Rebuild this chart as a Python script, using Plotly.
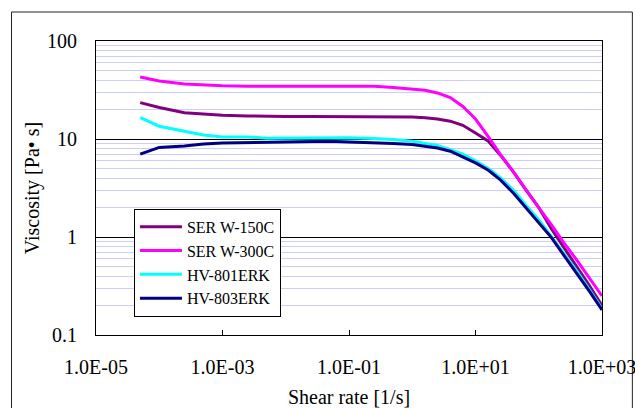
import plotly.graph_objects as go

shear_rate = [5e-5, 1e-4, 2.5e-4, 5e-4, 1e-3, 2.5e-3, 5e-3, 1e-2, 2.5e-2, 5e-2,
              0.1, 0.25, 0.5, 1, 1.6, 2.5, 4, 6.3, 10, 16, 25, 40, 63, 100,
              160, 250, 400, 630, 1000]

ser_w150c = [23.5, 21.0, 18.5, 18.0, 17.5, 17.2, 17.0, 17.0, 17.0, 17.0,
             17.0, 17.0, 17.0, 16.8, 16.5, 16.0, 15.2, 13.8, 11.5, 9.5, 6.8, 4.6, 3.0, 2.0,
             1.2, 0.78, 0.5, 0.32, 0.2]
ser_w300c = [43.0, 39.0, 36.5, 35.5, 35.0, 34.5, 34.5, 34.5, 34.5, 34.5,
             34.5, 34.5, 33.5, 32.5, 31.5, 29.5, 26.5, 21.5, 16.0, 10.5, 6.9, 4.6, 3.0, 2.0,
             1.32, 0.87, 0.58, 0.38, 0.25]
hv_801erk = [16.5, 13.5, 12.0, 11.0, 10.5, 10.5, 10.2, 10.2, 10.2, 10.3,
             10.3, 10.1, 9.9, 9.5, 9.1, 8.6, 7.8, 7.0, 6.0, 5.0, 4.0, 3.0, 2.1, 1.5,
             1.0, 0.68, 0.45, 0.29, 0.185]
hv_803erk = [7.0, 8.2, 8.5, 8.9, 9.1, 9.2, 9.3, 9.3, 9.4, 9.5,
             9.3, 9.2, 9.0, 8.8, 8.5, 8.1, 7.5, 6.6, 5.7, 4.8, 3.8, 2.8, 2.0, 1.4,
             0.98, 0.65, 0.43, 0.28, 0.18]

series_names = ["SER W-150C", "SER W-300C", "HV-801ERK", "HV-803ERK"]
series_values = [ser_w150c, ser_w300c, hv_801erk, hv_803erk]
series_colors = ["#800080", "#FF00FF", "#00FFFF", "#000080"]

x_tick_vals = [1e-5, 1e-3, 1e-1, 1e1, 1e3]
x_tick_text = ["1.0E-05", "1.0E-03", "1.0E-01", "1.0E+01", "1.0E+03"]
y_tick_vals = [0.1, 1, 10, 100]
y_tick_text = ["0.1", "1", "10", "100"]

FONT = "Liberation Serif"

fig = go.Figure()
for name, vals, col in zip(series_names, series_values, series_colors):
    fig.add_trace(go.Scatter(x=shear_rate, y=vals, name=name, mode="lines",
                             line=dict(color=col, width=3)))

fig.update_layout(
    width=635, height=408,
    margin=dict(l=96, r=33, t=41, b=73),
    paper_bgcolor="white", plot_bgcolor="white",
    font=dict(family=FONT, color="black", size=20),
    showlegend=True,
    legend=dict(x=0.075, y=0.429, xanchor="left", yanchor="top",
                bgcolor="white", bordercolor="black", borderwidth=1,
                font=dict(family=FONT, size=16, color="black"),
                itemwidth=42, tracegroupgap=0, entrywidth=162),
    xaxis=dict(type="log", range=[-5, 3], tickvals=x_tick_vals, ticktext=x_tick_text,
               showgrid=False, zeroline=False, showline=True, linecolor="black",
               linewidth=1, mirror=True, ticks="inside", ticklen=5, tickcolor="black",
               ticklabelstandoff=14, ticklabeloverflow="allow", automargin=False,
               tickfont=dict(family=FONT, size=20),
               title=dict(text="Shear rate [1/s]", font=dict(family=FONT, size=20), standoff=12)),
    yaxis=dict(type="log", range=[-1, 2], tickvals=y_tick_vals, ticktext=y_tick_text,
               showgrid=True, gridcolor="black", gridwidth=1, zeroline=False,
               showline=True, linecolor="black", linewidth=1, mirror=True,
               ticks="", ticklabelstandoff=14, automargin=False,
               tickfont=dict(family=FONT, size=20),
               minor=dict(dtick="D1", showgrid=True, gridcolor="#ccccff", gridwidth=1, ticks=""),
               title=dict(text="Viscosity [Pa• s]", font=dict(family=FONT, size=20), standoff=2)),
    shapes=[dict(type="rect", xref="paper", yref="paper",
                 x0=-0.167, x1=1.060, y0=-0.26, y1=1.0986,
                 line=dict(color="#222222", width=1), layer="below")],
)

fig.write_html("out.html")
